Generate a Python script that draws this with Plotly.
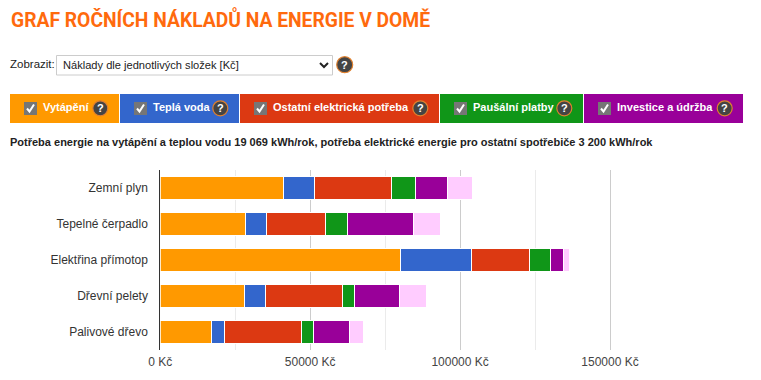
import plotly.graph_objects as go

W, H = 761, 380

categories = ["Zemní plyn", "Tepelné čerpadlo", "Elektřina přímotop", "Dřevní pelety", "Palivové dřevo"]
vytapeni = [41000, 28300, 80000, 28000, 17000]
tepla_voda = [10300, 7000, 23700, 7000, 4300]
ostatni = [25700, 19700, 19300, 25700, 25700]
pausalni = [8000, 7300, 7300, 4000, 4000]
investice = [10700, 22000, 4300, 15000, 12000]
udrzba = [8500, 9200, 1900, 9200, 4900]
x_ticks = [0, 50000, 100000, 150000]
x_tick_labels = ["0 Kč", "50000 Kč", "100000 Kč", "150000 Kč"]

series = [
    ("Vytápění", vytapeni, "#ff9900"),
    ("Teplá voda", tepla_voda, "#3366cc"),
    ("Ostatní elektrická potřeba", ostatni, "#dc3912"),
    ("Paušální platby", pausalni, "#109618"),
    ("Investice", investice, "#990099"),
    ("Údržba", udrzba, "#ffccff"),
]

legend_items = [
    ("Vytápění", "#ff9900", 10, 119, 24, 42, 100.3),
    ("Teplá voda", "#3366cc", 120, 239, 134, 152, 220.3),
    ("Ostatní elektrická potřeba", "#dc3912", 240, 439, 254, 272, 420.3),
    ("Paušální platby", "#109618", 440, 583, 454, 472, 564.3),
    ("Investice a údržba", "#990099", 584, 743, 598, 616, 724.7),
]

TITLE = "GRAF ROČNÍCH NÁKLADŮ NA ENERGIE V DOMĚ"

def px(x):
    return x / W

def py(y):
    return 1 - y / H

shapes = []
annotations = []

def rect(x0, y0, x1, y1, fill, line=None):
    shapes.append(dict(type="rect", xref="paper", yref="paper", x0=px(x0), x1=px(x1),
                       y0=py(y0), y1=py(y1), fillcolor=fill, line=dict(width=1 if line else 0, color=line or fill)))

def path(points, close=False, fill=None, color="white", width=2):
    d = "M " + " L ".join(f"{px(a):.5f},{py(b):.5f}" for a, b in points) + (" Z" if close else "")
    shapes.append(dict(type="path", xref="paper", yref="paper", path=d,
                       fillcolor=fill or "rgba(0,0,0,0)", line=dict(color=color, width=width)))

def text(x, y, s, size=12, color="#222222", bold=False, anchor="left", family="Liberation Sans"):
    annotations.append(dict(xref="paper", yref="paper", x=px(x), y=py(y), text=f"<b>{s}</b>" if bold else s,
                            showarrow=False, xanchor=anchor, yanchor="middle", borderpad=0,
                            font=dict(size=size, color=color, family=family)))

def help_icon(cx, cy, r=7.5):
    shapes.append(dict(type="circle", xref="paper", yref="paper", x0=px(cx - r), x1=px(cx + r),
                       y0=py(cy + r), y1=py(cy - r), fillcolor="#444444", line=dict(color="#e0812f", width=1.2)))
    text(cx, cy, "?", size=11, color="white", bold=True, anchor="center")

# page header
text(10, 19, TITLE, size=21, color="#ff6a0d", bold=True, family="Roboto, sans-serif")
text(9, 64, "Zobrazit:", size=11.5)
shapes.append(dict(type="rect", xref="paper", yref="paper", x0=px(56.5), x1=px(332.5), y0=py(75), y1=py(55.5),
                   fillcolor="white", line=dict(color="#cccccc", width=1)))
text(62, 65, "Náklady dle jednotlivých složek [Kč]", size=11.1)
path([(320, 63), (324, 67), (328, 63)], color="#222222", width=2)
help_icon(344.7, 64.7, 8)

# legend strip
for label, color, x0, x1, cb, tx, hx in legend_items:
    rect(x0, 94, x1, 123, color)
    rect(cb, 102, cb + 13, 115, "#767676")
    path([(cb + 3, 108.5), (cb + 5.5, 111.5), (cb + 10, 104.5)], color="white", width=2)
    text(tx, 107, label, size=11, color="white", bold=True)
    help_icon(hx, 108.3)

text(9, 142, "Potřeba energie na vytápění a teplou vodu 19 069 kWh/rok, potřeba elektrické energie pro ostatní spotřebiče 3 200 kWh/rok",
     size=11, bold=True)

fig = go.Figure()
for name, values, color in series:
    fig.add_trace(go.Bar(y=categories, x=values, name=name, orientation="h",
                         marker=dict(color=color, line=dict(color="white", width=1)),
                         width=0.63, hoverinfo="skip"))

fig.update_layout(
    width=W, height=H, barmode="stack", showlegend=False,
    margin=dict(l=0, r=0, t=0, b=0, autoexpand=False),
    paper_bgcolor="white", plot_bgcolor="white",
    font=dict(family="Liberation Sans", size=12, color="#444444"),
    shapes=shapes, annotations=annotations,
    xaxis=dict(domain=[px(160.3), px(640)], range=[0, 160000], tickmode="array",
               tickvals=x_ticks, ticktext=x_tick_labels, showgrid=True, gridcolor="#cccccc", gridwidth=1,
               minor=dict(dtick=25000, showgrid=True, gridcolor="#ebebeb", gridwidth=1, ticks=""),
               zeroline=False, showline=False, ticks="", automargin=False,
               ticklabelstandoff=3, tickfont=dict(size=12, color="#444444"), anchor="y"),
    yaxis=dict(domain=[py(350), py(170)], autorange="reversed", showgrid=False, zeroline=False,
               showline=True, linecolor="#333333", linewidth=1, ticks="", automargin=False,
               ticklabelstandoff=9, tickfont=dict(size=12, color="#333333"), anchor="x"),
)

post = """
document.body.style.margin = '0';
document.querySelectorAll('.annotation-text').forEach(function (t) {
  if (t.textContent.indexOf('GRAF') === 0) {
    var orig = t.getComputedTextLength();
    t.setAttribute('x', parseFloat(t.getAttribute('x')) - (orig - 419) / 2);
    t.setAttribute('textLength', '419');
    t.setAttribute('lengthAdjust', 'spacingAndGlyphs');
  }
});
"""
fig.write_html("out.html", post_script=post, config={"displayModeBar": False})
